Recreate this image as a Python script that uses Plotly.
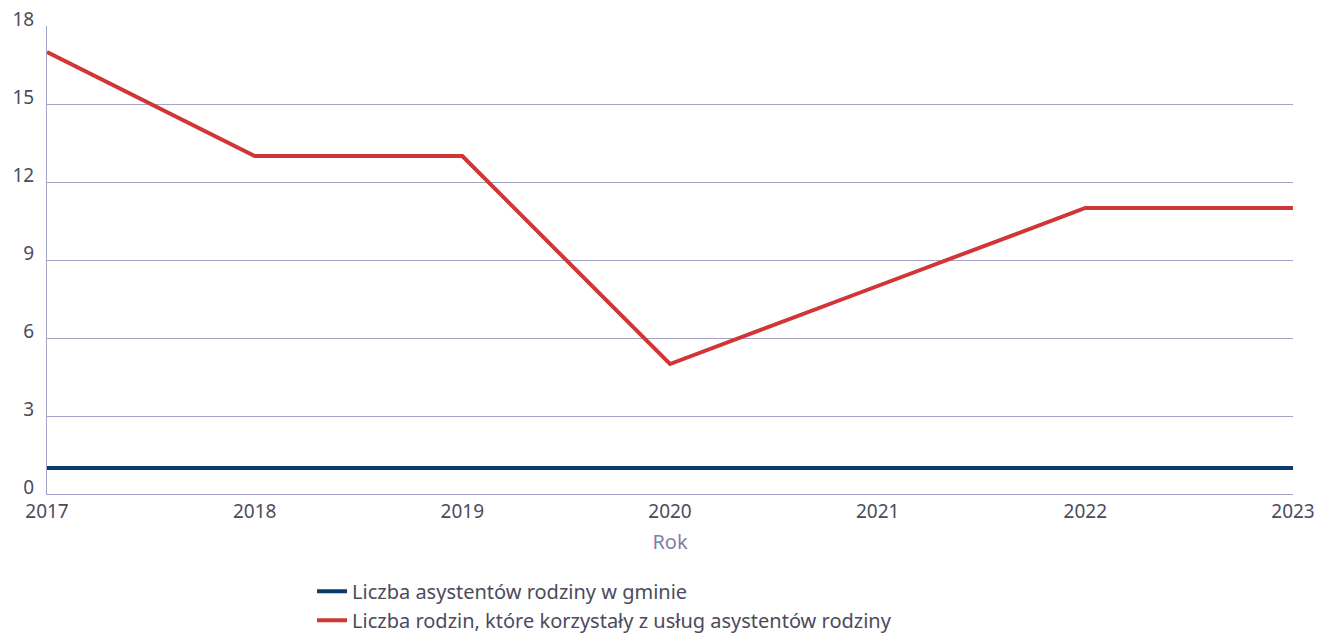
import plotly.graph_objects as go

# lata i wartości
years = [2017, 2018, 2019, 2020, 2021, 2022, 2023]
asystenci = [1, 1, 1, 1, 1, 1, 1]
rodziny = [17, 13, 13, 5, 8, 11, 11]
y_ticks = [0, 3, 6, 9, 12, 15, 18]

name_asyst = "Liczba asystentów rodziny w gminie"
name_rodz = "Liczba rodzin, które korzystały z usług asystentów rodziny"

grid_col = "#a4a4c8"
text_col = "#4b4b5c"

fig = go.Figure()
fig.add_trace(go.Scatter(x=years, y=asystenci, mode="lines", name=name_asyst,
                         line=dict(color="#0b3a6e", width=4)))
fig.add_trace(go.Scatter(x=years, y=rodziny, mode="lines", name=name_rodz,
                         line=dict(color="#d13535", width=4)))

fig.update_layout(
    width=1317, height=636,
    margin=dict(l=47, r=24, t=26, b=142, autoexpand=False),
    plot_bgcolor="white", paper_bgcolor="white",
    font=dict(family="Noto Sans", size=19, color=text_col),
    showlegend=True,
    legend=dict(orientation="v", x=0.2127, xanchor="left", y=-0.166, yanchor="top",
                font=dict(size=20, color=text_col), itemwidth=30,
                tracegroupgap=0, bgcolor="rgba(0,0,0,0)"),
)
fig.update_xaxes(range=[2017, 2023], tickvals=years, ticktext=[str(y) for y in years],
                 showgrid=False, showline=True, linecolor=grid_col, linewidth=1,
                 zeroline=False, ticks="", automargin=False, ticklabeloverflow="allow",
                 tickfont=dict(size=19, color=text_col),
                 title=dict(text="Rok", font=dict(size=20, color="#7f7fa6"), standoff=12))
fig.update_yaxes(range=[0, 18], tickvals=y_ticks, showgrid=True, gridcolor=grid_col,
                 gridwidth=1, showline=True, linecolor=grid_col, linewidth=1,
                 zeroline=False, ticks="", ticklabelshift=-7, ticklabelstandoff=8,
                 automargin=False, ticklabeloverflow="allow",
                 tickfont=dict(size=19, color=text_col))

# bez domyślnego marginesu body, żeby figura zaczynała się w (0, 0)
fig.write_html("out.html", config={"displayModeBar": False},
               post_script="document.body.style.margin='0';")
